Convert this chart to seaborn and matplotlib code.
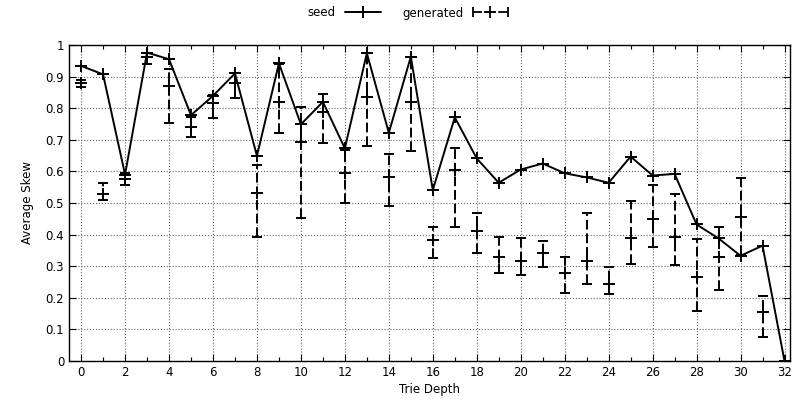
import matplotlib
matplotlib.use("Agg")
import matplotlib.pyplot as plt
import numpy as np
import pandas as pd
import seaborn as sns
from matplotlib.legend_handler import HandlerBase
from matplotlib.lines import Line2D
from matplotlib.ticker import MultipleLocator

depth = list(range(33))

seed_skew = [0.934, 0.907, 0.59, 0.976, 0.955, 0.778, 0.839, 0.91, 0.649, 0.942,
             0.749, 0.82, 0.673, 0.974, 0.722, 0.963, 0.541, 0.771, 0.641, 0.564,
             0.606, 0.625, 0.594, 0.581, 0.564, 0.647, 0.587, 0.592, 0.432, 0.388,
             0.333, 0.365, 0.0]

gen_depth = list(range(32))
gen_mean = [0.879, 0.528, 0.575, 0.963, 0.87, 0.741, 0.815, 0.881, 0.533, 0.82,
            0.694, 0.787, 0.594, 0.836, 0.583, 0.82, 0.383, 0.604, 0.412, 0.328,
            0.317, 0.343, 0.278, 0.317, 0.244, 0.388, 0.449, 0.393, 0.267, 0.33,
            0.455, 0.156]
gen_low = [0.866, 0.509, 0.557, 0.94, 0.752, 0.71, 0.768, 0.831, 0.391, 0.722,
           0.452, 0.689, 0.501, 0.68, 0.491, 0.665, 0.325, 0.425, 0.341, 0.278,
           0.272, 0.296, 0.216, 0.244, 0.212, 0.306, 0.362, 0.304, 0.159, 0.225,
           0.334, 0.077]
gen_high = [0.889, 0.562, 0.594, 0.975, 0.923, 0.771, 0.842, 0.912, 0.62, 0.94,
            0.803, 0.844, 0.668, 0.976, 0.654, 0.963, 0.423, 0.675, 0.467, 0.391,
            0.39, 0.381, 0.33, 0.469, 0.296, 0.507, 0.557, 0.527, 0.385, 0.423,
            0.58, 0.207]

DASH = (0, (5, 2))


class HandlerHorizErr(HandlerBase):
    def create_artists(self, legend, orig_handle, xdescent, ydescent,
                       width, height, fontsize, trans):
        y = height / 2 - ydescent
        x0, x1 = -xdescent, width - xdescent
        line = Line2D([x0, x1], [y, y], color="black", ls=DASH, lw=1.3)
        caps = Line2D([x0, x1], [y, y], ls="none", marker="|", ms=7,
                      mew=1.3, color="black")
        mid = Line2D([(x0 + x1) / 2], [y], ls="none", marker="+", ms=8,
                     mew=1.3, color="black")
        for a in (line, caps, mid):
            a.set_transform(trans)
        return [line, caps, mid]


def main():
    sns.set_style("ticks")
    plt.rcParams["font.family"] = ["DejaVu Sans"]
    plt.rcParams["font.size"] = 8.5
    plt.rcParams["text.color"] = "black"
    plt.rcParams["axes.labelcolor"] = "black"
    plt.rcParams["xtick.color"] = "black"
    plt.rcParams["ytick.color"] = "black"

    seed_df = pd.DataFrame({"depth": depth, "skew": seed_skew})
    gen_df = pd.DataFrame({"depth": gen_depth, "mean": gen_mean,
                           "low": gen_low, "high": gen_high})

    fig = plt.figure(figsize=(7.93, 4.04), dpi=100)
    ax = fig.add_axes([69 / 793, 43 / 404, 721 / 793, 316 / 404])

    sns.lineplot(data=seed_df, x="depth", y="skew", ax=ax, color="black",
                 linewidth=1.4, marker="+", markersize=9, markeredgewidth=1.4,
                 markeredgecolor="black", label="seed", legend=False)

    yerr = np.vstack([gen_df["mean"] - gen_df["low"], gen_df["high"] - gen_df["mean"]])
    eb = ax.errorbar(gen_df["depth"], gen_df["mean"], yerr=yerr, fmt="none",
                     ecolor="black", elinewidth=1.4, capsize=3.5, capthick=1.4)
    eb[2][0].set_linestyle(DASH)
    ax.plot(gen_df["depth"], gen_df["mean"], ls="none", marker="+", ms=9,
            mew=1.4, color="black")

    ax.set_xlim(-0.55, 32.25)
    ax.set_ylim(0, 1)
    ax.xaxis.set_major_locator(MultipleLocator(2))
    ax.xaxis.set_minor_locator(MultipleLocator(1))
    ax.set_yticks(np.arange(0, 1.01, 0.1))
    ax.set_yticklabels(["0", "0.1", "0.2", "0.3", "0.4", "0.5", "0.6", "0.7",
                        "0.8", "0.9", "1"])
    ax.tick_params(which="both", direction="in", top=True, right=True,
                   labelsize=8.5, color="black", labelcolor="black", width=0.8)
    ax.tick_params(which="major", length=5)
    ax.tick_params(which="minor", length=3)
    ax.grid(True, which="major", color="#666666", linestyle=":", linewidth=0.8)
    for sp in ax.spines.values():
        sp.set_color("black")
        sp.set_linewidth(1.0)

    ax.set_xlabel("Trie Depth", fontsize=8.5, labelpad=3)
    ax.set_ylabel("Average Skew", fontsize=8.5, labelpad=8)

    seed_handle = Line2D([], [], color="black", lw=1.4, marker="+", ms=9, mew=1.4)
    gen_handle = Line2D([], [])
    fig.legend([seed_handle, gen_handle], ["seed", "generated"],
               loc="center", bbox_to_anchor=(408 / 793, 1 - 13 / 404), ncol=2,
               frameon=False, markerfirst=False, handlelength=3.0,
               columnspacing=1.8, fontsize=8.5,
               handler_map={gen_handle: HandlerHorizErr()})

    fig.savefig("out.png", dpi=100)
    plt.close(fig)


if __name__ == "__main__":
    main()
